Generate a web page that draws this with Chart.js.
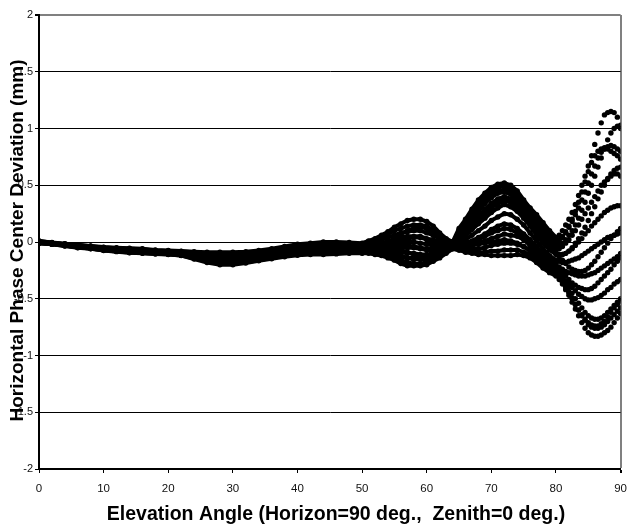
<!DOCTYPE html>
<html>
<head>
<meta charset="utf-8">
<script src="https://cdn.jsdelivr.net/npm/chart.js@4.4.0/dist/chart.umd.min.js"></script>
<style>
  html, body { margin: 0; padding: 0; background: #fff; }
  #wrap { width: 636px; height: 527px; }
</style>
</head>
<body>
<div id="wrap"><canvas id="pcv" width="636" height="527"></canvas></div>
<script>
// elevation angles (deg), shared by every azimuth curve
const elevation = [0,2,4,6,8,10,12,14,16,18,20,22,24,26,28,30,32,34,36,38,40,42,44,46,48,50,
  51,52,53,54,55,56,57,58,59,60,61,62,63,64,65,66,67,68,69,70,71,72,73,74,75,76,77,78,79,
  80,80.5,81,81.5,82,82.5,83,83.5,84,84.5,85,85.5,86,86.5,87,87.5,88,88.5,89,89.5,90];

// horizontal phase center deviation (mm), one array per azimuth
const azA = [.01,-.005,-.015,-.025,-.035,-.045,-.05,-.055,-.06,-.07,-.075,-.08,-.085,-.09,-.09,-.09,-.085,-.075,-.06,-.04,-.02,-.01,0,0,-.005,-.01,
  .01,.03,.06,.09,.13,.16,.19,.2,.2,.18,.14,.08,.03,0,.12,.2,.29,.37,.43,.48,.51,.52,.5,.45,.37,.3,.24,.17,.1,
  .04,.06,.1,.15,.2,.26,.33,.41,.5,.58,.67,.76,.86,.96,1.05,1.12,1.14,1.15,1.14,1.1,1.0];
const azB = [.01,-.007,-.017,-.028,-.038,-.048,-.054,-.06,-.064,-.074,-.079,-.084,-.091,-.098,-.1,-.099,-.094,-.083,-.069,-.049,-.031,-.021,-.012,-.012,-.016,-.02,
  0,.02,.04,.07,.1,.12,.14,.15,.15,.14,.1,.06,.02,-.01,.08,.15,.23,.3,.37,.42,.45,.46,.44,.39,.32,.26,.19,.1,.04,
  -.01,0,.04,.08,.13,.18,.24,.3,.37,.44,.52,.6,.67,.74,.79,.82,.84,.85,.84,.82,.8];
const azC = [.005,-.009,-.02,-.031,-.04,-.052,-.058,-.064,-.069,-.078,-.083,-.089,-.097,-.107,-.11,-.109,-.103,-.092,-.078,-.059,-.041,-.032,-.024,-.023,-.026,-.03,
  -.01,0,.02,.04,.06,.08,.09,.1,.1,.08,.06,.03,0,-.02,.05,.1,.17,.23,.29,.34,.38,.4,.38,.34,.27,.2,.13,.05,-.01,
  -.06,-.06,-.04,-.01,.02,.06,.1,.15,.2,.25,.3,.35,.4,.45,.5,.53,.56,.58,.6,.6,.58];
const azD = [.005,-.01,-.022,-.033,-.043,-.055,-.062,-.068,-.073,-.082,-.087,-.093,-.103,-.115,-.12,-.118,-.112,-.1,-.087,-.068,-.052,-.043,-.037,-.035,-.037,-.04,
  -.03,-.02,-.01,.01,.02,.04,.05,.05,.05,.03,.02,0,-.02,-.03,.02,.06,.11,.16,.21,.26,.3,.33,.31,.27,.21,.14,.06,-.01,-.07,
  -.11,-.12,-.11,-.1,-.08,-.06,-.03,0,.03,.07,.1,.14,.17,.2,.23,.26,.28,.3,.31,.32,.32];
const azE = [0,-.012,-.024,-.036,-.046,-.058,-.066,-.073,-.078,-.085,-.09,-.098,-.109,-.123,-.13,-.128,-.121,-.108,-.096,-.078,-.062,-.054,-.049,-.047,-.047,-.05,
  -.04,-.04,-.03,-.02,-.01,0,0,0,-.01,-.02,-.03,-.03,-.04,-.04,-.01,.02,.06,.1,.14,.19,.22,.25,.24,.2,.15,.08,.01,-.06,-.12,
  -.16,-.17,-.18,-.18,-.17,-.16,-.15,-.14,-.12,-.1,-.08,-.06,-.04,-.02,0,.02,.04,.05,.06,.07,.08];
const azF = [0,-.013,-.026,-.039,-.049,-.062,-.069,-.077,-.082,-.089,-.094,-.102,-.116,-.132,-.14,-.137,-.129,-.117,-.104,-.087,-.073,-.066,-.061,-.058,-.058,-.06,
  -.06,-.06,-.06,-.05,-.05,-.04,-.05,-.05,-.06,-.07,-.07,-.06,-.05,-.04,-.03,-.01,.01,.04,.07,.11,.14,.16,.15,.12,.07,.02,-.04,-.1,-.15,
  -.19,-.22,-.24,-.26,-.27,-.28,-.29,-.3,-.3,-.3,-.29,-.28,-.27,-.25,-.23,-.21,-.19,-.17,-.15,-.13,-.1];
const azG = [-.005,-.015,-.028,-.042,-.052,-.065,-.073,-.082,-.087,-.093,-.098,-.107,-.122,-.14,-.15,-.147,-.138,-.125,-.113,-.097,-.083,-.077,-.073,-.07,-.068,-.07,
  -.07,-.07,-.08,-.08,-.09,-.09,-.1,-.1,-.11,-.11,-.1,-.08,-.06,-.05,-.05,-.04,-.03,-.01,.01,.03,.05,.07,.06,.05,.02,-.03,-.08,-.14,-.19,
  -.22,-.26,-.3,-.34,-.37,-.4,-.43,-.46,-.48,-.5,-.51,-.51,-.5,-.49,-.47,-.45,-.42,-.4,-.37,-.35,-.33];
const azH = [-.005,-.017,-.03,-.044,-.054,-.068,-.077,-.086,-.091,-.097,-.102,-.111,-.128,-.15,-.165,-.162,-.152,-.137,-.124,-.106,-.094,-.088,-.086,-.082,-.079,-.08,
  -.08,-.08,-.09,-.1,-.12,-.13,-.14,-.15,-.15,-.15,-.13,-.1,-.07,-.05,-.06,-.06,-.06,-.06,-.05,-.03,-.02,-.01,-.01,-.02,-.04,-.07,-.11,-.17,-.22,
  -.25,-.28,-.32,-.36,-.4,-.45,-.5,-.54,-.58,-.62,-.65,-.67,-.68,-.68,-.67,-.65,-.62,-.59,-.56,-.53,-.5];
const azI = [-.01,-.018,-.032,-.047,-.057,-.072,-.081,-.091,-.096,-.101,-.106,-.116,-.137,-.163,-.18,-.178,-.167,-.15,-.135,-.118,-.104,-.099,-.098,-.093,-.089,-.09,
  -.09,-.1,-.11,-.12,-.14,-.16,-.18,-.19,-.19,-.18,-.15,-.12,-.08,-.06,-.07,-.08,-.08,-.09,-.09,-.08,-.08,-.07,-.07,-.07,-.09,-.11,-.15,-.2,-.25,
  -.28,-.31,-.35,-.39,-.44,-.49,-.55,-.6,-.65,-.69,-.73,-.75,-.76,-.76,-.75,-.73,-.7,-.67,-.64,-.61,-.58];
const azJ = [-.01,-.02,-.035,-.05,-.06,-.075,-.085,-.095,-.1,-.105,-.11,-.12,-.15,-.18,-.2,-.2,-.185,-.165,-.148,-.13,-.117,-.11,-.11,-.105,-.1,-.1,
  -.1,-.11,-.12,-.14,-.16,-.19,-.21,-.21,-.21,-.2,-.17,-.14,-.1,-.06,-.07,-.09,-.1,-.11,-.11,-.12,-.12,-.12,-.12,-.11,-.12,-.14,-.18,-.23,-.27,
  -.3,-.33,-.37,-.42,-.47,-.53,-.59,-.65,-.71,-.76,-.8,-.82,-.83,-.83,-.82,-.8,-.78,-.75,-.71,-.67,-.63];
const azK = [0,-.01,-.02,-.03,-.04,-.05,-.06,-.065,-.07,-.08,-.085,-.09,-.1,-.12,-.13,-.125,-.115,-.1,-.085,-.065,-.045,-.035,-.03,-.028,-.03,-.035,
  -.04,-.05,-.06,-.08,-.1,-.12,-.14,-.15,-.15,-.14,-.11,-.07,-.03,-.01,.1,.18,.26,.33,.4,.45,.48,.49,.47,.42,.35,.28,.21,.13,.06,
  0,.02,.05,.09,.14,.2,.27,.35,.44,.53,.62,.7,.76,.8,.82,.83,.82,.8,.78,.76,.73];
const azL = [.005,-.012,-.023,-.035,-.045,-.06,-.068,-.075,-.08,-.088,-.093,-.1,-.112,-.128,-.135,-.132,-.125,-.112,-.1,-.082,-.067,-.06,-.055,-.052,-.052,-.055,
  -.05,-.04,-.02,0,.03,.07,.1,.12,.13,.12,.08,.04,0,-.02,.06,.12,.2,.27,.34,.39,.43,.44,.42,.37,.3,.23,.16,.08,.01,
  -.04,-.03,-.01,.02,.06,.1,.15,.21,.28,.35,.43,.5,.58,.66,.74,.82,.9,.96,1.0,1.02,1.03];
const azM = [-.005,-.015,-.027,-.04,-.05,-.062,-.07,-.08,-.085,-.091,-.096,-.105,-.118,-.136,-.145,-.142,-.134,-.12,-.108,-.092,-.078,-.072,-.067,-.064,-.063,-.065,
  -.06,-.06,-.05,-.03,-.01,.01,.03,.04,.04,.02,-.01,-.03,-.05,-.05,0,.05,.12,.19,.25,.3,.34,.36,.35,.3,.24,.17,.1,.02,-.04,
  -.09,-.13,-.16,-.19,-.22,-.24,-.25,-.26,-.26,-.25,-.23,-.2,-.17,-.13,-.09,-.05,-.01,.03,.06,.09,.12];
const azN = [-.01,-.019,-.033,-.048,-.058,-.073,-.083,-.093,-.098,-.103,-.108,-.118,-.145,-.172,-.19,-.19,-.178,-.16,-.142,-.124,-.11,-.104,-.104,-.099,-.094,-.095,
  -.09,-.09,-.1,-.11,-.12,-.13,-.14,-.14,-.13,-.12,-.1,-.07,-.05,-.04,-.04,-.04,-.03,-.02,-.01,0,.01,.02,.01,-.01,-.04,-.08,-.13,-.18,-.22,
  -.26,-.3,-.35,-.4,-.45,-.5,-.55,-.6,-.64,-.68,-.71,-.73,-.74,-.74,-.72,-.7,-.66,-.62,-.58,-.55,-.52];
const azO = [0,-.012,-.025,-.037,-.048,-.06,-.067,-.075,-.08,-.087,-.092,-.1,-.112,-.127,-.135,-.132,-.125,-.112,-.1,-.083,-.068,-.06,-.055,-.052,-.052,-.055,
  -.05,-.05,-.04,-.03,-.02,-.02,-.03,-.04,-.05,-.06,-.06,-.05,-.04,-.03,.01,.06,.13,.2,.27,.33,.37,.39,.37,.33,.26,.18,.1,.02,-.05,
  -.1,-.11,-.11,-.1,-.08,-.05,-.01,.03,.08,.13,.19,.25,.31,.38,.44,.5,.55,.6,.63,.65,.66];
const azP = [-.005,-.016,-.029,-.043,-.053,-.066,-.075,-.084,-.089,-.095,-.1,-.109,-.125,-.144,-.155,-.152,-.143,-.129,-.118,-.102,-.089,-.083,-.08,-.076,-.074,-.075,
  -.07,-.07,-.07,-.06,-.06,-.07,-.09,-.11,-.12,-.12,-.11,-.08,-.06,-.04,-.03,-.02,0,.02,.05,.08,.1,.12,.11,.08,.04,-.02,-.07,-.13,-.18,
  -.21,-.24,-.27,-.3,-.33,-.36,-.38,-.4,-.41,-.42,-.42,-.41,-.39,-.36,-.33,-.3,-.27,-.24,-.2,-.17,-.14];

const curves = [azA, azB, azC, azD, azE, azF, azG, azH, azI, azJ, azK, azL, azM, azN, azO, azP];

// tick labels
const xTicks = [0, 10, 20, 30, 40, 50, 60, 70, 80, 90];
const yTickLabels = ['-2', '-1.5', '-1', '-0.5', '0', '0.5', '1', '1.5', '2'];

const xTitle = 'Elevation Angle (Horizon=90 deg.,  Zenith=0 deg.)';
const yTitle = 'Horizontal Phase Center Deviation (mm)';

const FONT = '"Liberation Sans", Arial, sans-serif';

// axis titles drawn by hand so the y title can sit over the tick labels like the original
const axisTitles = {
    id: 'axisTitles',
    afterDraw(chart) {
        const { ctx } = chart;
        ctx.save();
        ctx.fillStyle = '#000';
        ctx.textAlign = 'center';
        ctx.textBaseline = 'middle';
        ctx.font = 'bold 19.5px ' + FONT;
        ctx.fillText(xTitle, 336, 515);
        ctx.font = 'bold 19px ' + FONT;
        ctx.translate(17.5, 240.5);
        ctx.rotate(-Math.PI / 2);
        ctx.fillText(yTitle, 0, 0);
        ctx.restore();
    }
};

// near the horizon the samples are plotted as loose dots only, no joining line
const datasets = curves.map(ys => ({
    data: elevation.map((x, i) => ({ x: x, y: ys[i] })),
    showLine: true,
    borderColor: '#000',
    borderWidth: 4,
    segment: {
        borderColor: c => c.p0.parsed.x >= 80 ? 'rgba(0,0,0,0)' : undefined
    },
    pointRadius: 2.7,
    pointBackgroundColor: '#000',
    pointBorderWidth: 0
}));

new Chart(document.getElementById('pcv'), {
    type: 'scatter',
    data: { datasets: datasets },
    options: {
        responsive: false,
        animation: false,
        layout: { padding: { top: 15, right: 7, left: 0, bottom: 0 } },
        plugins: { legend: { display: false }, tooltip: { enabled: false } },
        scales: {
            x: {
                type: 'linear',
                min: 0,
                max: 90,
                afterFit: s => { s.height = 58; },
                afterBuildTicks: s => { s.ticks = xTicks.map(v => ({ value: v })); },
                ticks: {
                    color: '#111',
                    font: { family: FONT, size: 11.5 },
                    padding: 9,
                    maxRotation: 0
                },
                grid: {
                    color: c => (c.tick && c.tick.value === 90) ? '#808080' : 'rgba(0,0,0,0)',
                    lineWidth: c => (c.tick && c.tick.value === 90) ? 2 : 1,
                    tickColor: '#000',
                    tickLength: 4
                },
                border: { color: '#000', width: 2 }
            },
            y: {
                type: 'linear',
                min: -2,
                max: 2,
                afterFit: s => { s.width = 39; },
                ticks: {
                    stepSize: 0.5,
                    color: '#111',
                    font: { family: FONT, size: 11 },
                    padding: 2,
                    callback: (v, i) => yTickLabels[i]
                },
                grid: {
                    color: c => (c.tick && c.tick.value === 2) ? '#808080' : '#000',
                    lineWidth: c => (c.tick && c.tick.value === 2) ? 2 : 1,
                    tickColor: '#000',
                    tickLength: 4
                },
                border: { color: '#000', width: 2 }
            }
        }
    },
    plugins: [axisTitles]
});
</script>
</body>
</html>
